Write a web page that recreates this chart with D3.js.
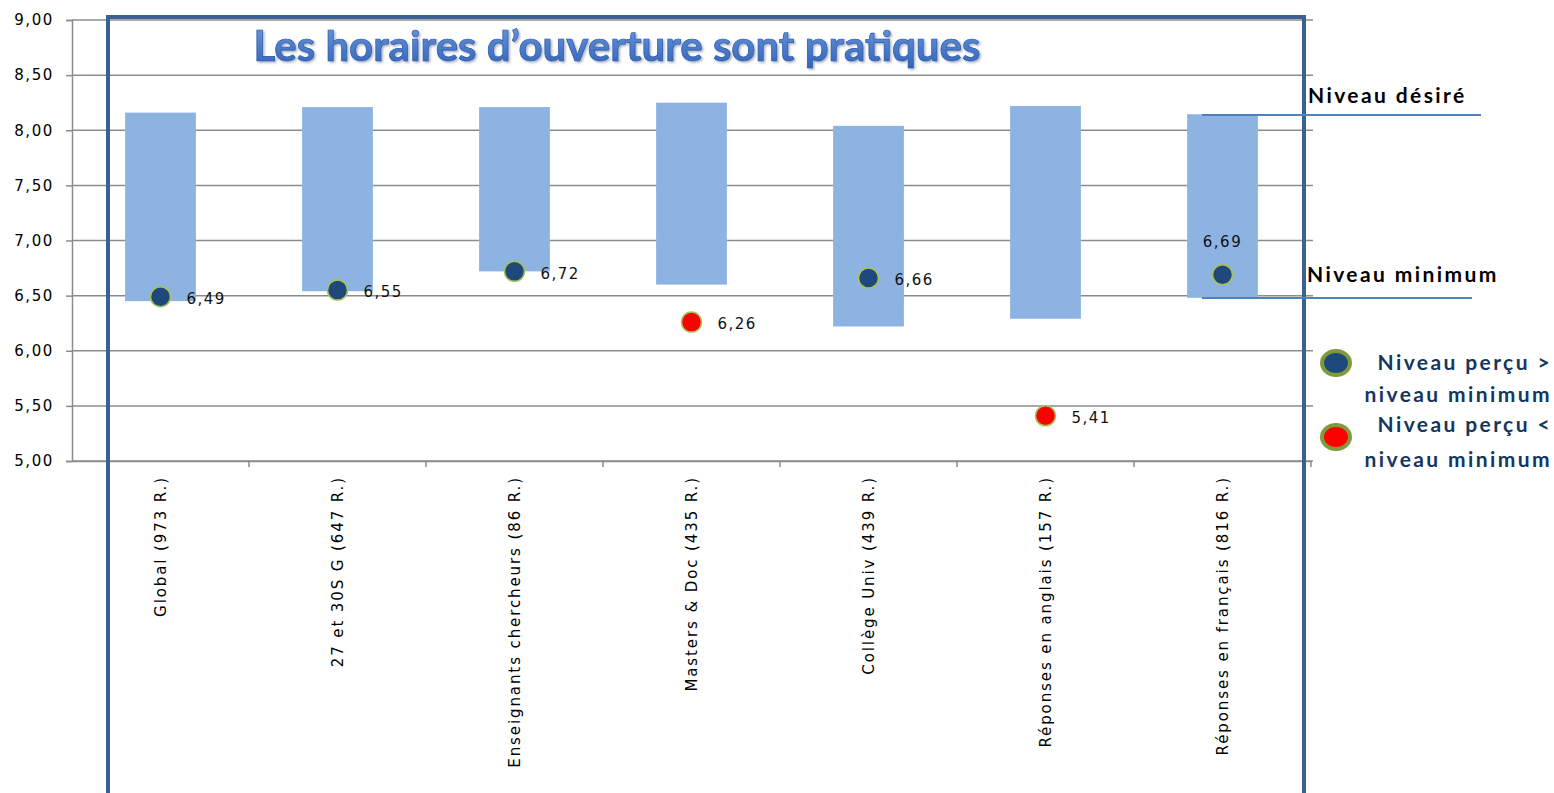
<!DOCTYPE html>
<html>
<head>
<meta charset="utf-8">
<script src="https://cdn.jsdelivr.net/npm/d3@7"></script>
<style>
  body { margin: 0; background: #fff; }
  svg { display: block; }
  .tick text { font-family: "DejaVu Sans", sans-serif; fill: #000; }
</style>
</head>
<body>
<div id="vis"></div>
<script>
var categories = ['Global (973 R.)', '27 et 30S G (647 R.)', 'Enseignants chercheurs  (86 R.)',
                  'Masters & Doc (435 R.)', 'Collège Univ (439 R.)', 'Réponses en anglais (157 R.)',
                  'Réponses en français (816 R.)'];
var desired   = [8.16, 8.21, 8.21, 8.25, 8.04, 8.22, 8.145];
var minimum   = [6.45, 6.54, 6.72, 6.60, 6.22, 6.29, 6.48];
var perceived = [6.49, 6.55, 6.72, 6.26, 6.66, 5.41, 6.69];
var yTicks    = [5, 5.5, 6, 6.5, 7, 7.5, 8, 8.5, 9];

var width = 1554, height = 793;
var margin = { left: 72, top: 20, right: 243, bottom: 332 };
var drawWidth = width - margin.left - margin.right,
    drawHeight = height - margin.top - margin.bottom;

var data = categories.map((c, i) => ({
    name: c, desired: desired[i], minimum: minimum[i], perceived: perceived[i]
}));

var svg = d3.select('#vis').append('svg')
            .attr('width', width)
            .attr('height', height);

var defs = svg.append('defs');
var shadow = defs.append('filter').attr('id', 'shadow')
                 .attr('x', '-5%').attr('y', '-20%').attr('width', '110%').attr('height', '150%');
shadow.append('feDropShadow').attr('dx', 1.5).attr('dy', 1.5).attr('stdDeviation', 1)
      .attr('flood-color', '#7f8fa8').attr('flood-opacity', 0.7);
var grad = defs.append('linearGradient').attr('id', 'titleGrad')
               .attr('x1', 0).attr('y1', 0).attr('x2', 0).attr('y2', 1);
grad.append('stop').attr('offset', '0%').attr('stop-color', '#6f9be0');
grad.append('stop').attr('offset', '100%').attr('stop-color', '#2f62b8');

var g = svg.append('g')
           .attr('transform', `translate(${margin.left}, ${margin.top})`);

var xScale = d3.scaleBand()
               .domain(categories)
               .range([0, drawWidth])
               .paddingInner(0.6)
               .paddingOuter(0.3);

var xBand = d3.scaleBand()
              .domain(categories)
              .range([0, drawWidth]);

var yScale = d3.scaleLinear()
               .domain([5, 9])
               .range([drawHeight, 0]);

// gridlines
g.append('g')
 .selectAll('line')
 .data(yTicks)
 .enter()
 .append('line')
 .attr('x1', 0)
 .attr('x2', drawWidth + 2)
 .attr('y1', d => yScale(d))
 .attr('y2', d => yScale(d))
 .attr('stroke', '#8c8c8c')
 .attr('stroke-width', 1.5);

// y axis
var yAxis = d3.axisLeft(yScale)
              .tickValues(yTicks)
              .tickSize(6)
              .tickPadding(12)
              .tickFormat(d => d3.format('.2f')(d).replace('.', ','));

var yAxisG = g.append('g').call(yAxis);
yAxisG.select('.domain').attr('stroke', '#8c8c8c').attr('stroke-width', 1.5);
yAxisG.selectAll('.tick line').attr('stroke', '#8c8c8c').attr('stroke-width', 1.5);
yAxisG.selectAll('.tick text').style('font-size', '15px').style('letter-spacing', '1.6px').attr('fill', '#222');

// x axis
var xAxis = d3.axisBottom(xBand).tickSize(0).tickPadding(0);
var xAxisG = g.append('g')
              .attr('transform', `translate(0, ${drawHeight})`)
              .call(xAxis);
xAxisG.select('.domain').attr('stroke', '#8c8c8c').attr('stroke-width', 1.5);
xAxisG.selectAll('.tick text')
      .style('font-size', '15px')
      .style('letter-spacing', '1.9px')
      .attr('fill', '#222')
      .attr('transform', 'rotate(-90)')
      .attr('text-anchor', 'end')
      .attr('x', -15)
      .attr('y', 0)
      .attr('dy', '0.35em');

// ticks between categories
xAxisG.append('g')
      .selectAll('line')
      .data(categories.slice(1).concat(['__end']))
      .enter()
      .append('line')
      .attr('x1', d => d === '__end' ? drawWidth : xBand(d))
      .attr('x2', d => d === '__end' ? drawWidth : xBand(d))
      .attr('y1', 0)
      .attr('y2', 6)
      .attr('stroke', '#8c8c8c')
      .attr('stroke-width', 1.5);

// bars: from minimum to desired
g.append('g')
 .selectAll('rect')
 .data(data)
 .enter()
 .append('rect')
 .attr('x', d => xScale(d.name))
 .attr('width', xScale.bandwidth())
 .attr('y', d => yScale(d.desired))
 .attr('height', d => yScale(d.minimum) - yScale(d.desired))
 .attr('fill', '#8db3e2');

// perceived dots
var cx = d => xBand(d.name) + xBand.bandwidth() / 2;
g.append('g')
 .selectAll('circle')
 .data(data)
 .enter()
 .append('circle')
 .attr('cx', cx)
 .attr('cy', d => yScale(d.perceived))
 .attr('r', 10)
 .attr('fill', d => d.perceived >= d.minimum ? '#1f497d' : '#ff0000')
 .attr('stroke', '#a8c256')
 .attr('stroke-width', 1.5);

// value labels
var last = data.length - 1;
g.append('g')
 .selectAll('text')
 .data(data)
 .enter()
 .append('text')
 .attr('x', (d, i) => i === last ? cx(d) : cx(d) + 26)
 .attr('y', (d, i) => i === last ? yScale(d.perceived) - 33 : yScale(d.perceived) + 2)
 .attr('dy', '0.35em')
 .attr('text-anchor', (d, i) => i === last ? 'middle' : 'start')
 .style('font-family', '"DejaVu Sans", sans-serif')
 .style('font-size', '15px')
 .style('letter-spacing', '1.5px')
 .attr('fill', '#111')
 .text(d => d3.format('.2f')(d.perceived).replace('.', ','));

// blue frame
svg.append('rect')
   .attr('x', 108)
   .attr('y', 17)
   .attr('width', 1196)
   .attr('height', 800)
   .attr('fill', 'none')
   .attr('stroke', '#3b6192')
   .attr('stroke-width', 4);

// title
svg.append('text')
   .attr('x', 617)
   .attr('y', 61)
   .attr('text-anchor', 'middle')
   .style('font-family', 'Lato, "Open Sans", sans-serif')
   .style('font-weight', 'bold')
   .style('font-size', '42px')
   .attr('fill', 'url(#titleGrad)')
   .attr('stroke', '#2a5aa8')
   .attr('stroke-width', 0.7)
   .attr('filter', 'url(#shadow)')
   .text('Les horaires d\u2019ouverture sont pratiques');

// right annotations
var annot = svg.append('g')
               .style('font-family', 'Lato, "Open Sans", sans-serif')
               .style('font-weight', 'bold')
               .style('font-size', '21px')
               .style('letter-spacing', '2.4px');

annot.append('text').attr('x', 1308).attr('y', 103)
     .attr('fill', '#000').text('Niveau désiré');
annot.append('line').attr('x1', 1202).attr('x2', 1481).attr('y1', 115).attr('y2', 115)
     .attr('stroke', '#4f81bd').attr('stroke-width', 2);

annot.append('text').attr('x', 1307).attr('y', 282)
     .attr('fill', '#000').text('Niveau minimum');
annot.append('line').attr('x1', 1202).attr('x2', 1472).attr('y1', 298).attr('y2', 298)
     .attr('stroke', '#4f81bd').attr('stroke-width', 2);

// legend
var legend = [
    { fill: '#1f497d', y: 363, lines: ['Niveau perçu >', 'niveau minimum'], ty: [370, 402] },
    { fill: '#ff0000', y: 437, lines: ['Niveau perçu <', 'niveau minimum'], ty: [432, 467] }
];
legend.forEach(l => {
    annot.append('ellipse').attr('cx', 1336).attr('cy', l.y).attr('rx', 14).attr('ry', 12)
         .attr('fill', l.fill).attr('stroke', '#7f9a3c').attr('stroke-width', 4);
    l.lines.forEach((t, j) => {
        annot.append('text').attr('x', 1552).attr('y', l.ty[j])
             .attr('text-anchor', 'end')
             .attr('fill', '#17365d').text(t);
    });
});
</script>
</body>
</html>
